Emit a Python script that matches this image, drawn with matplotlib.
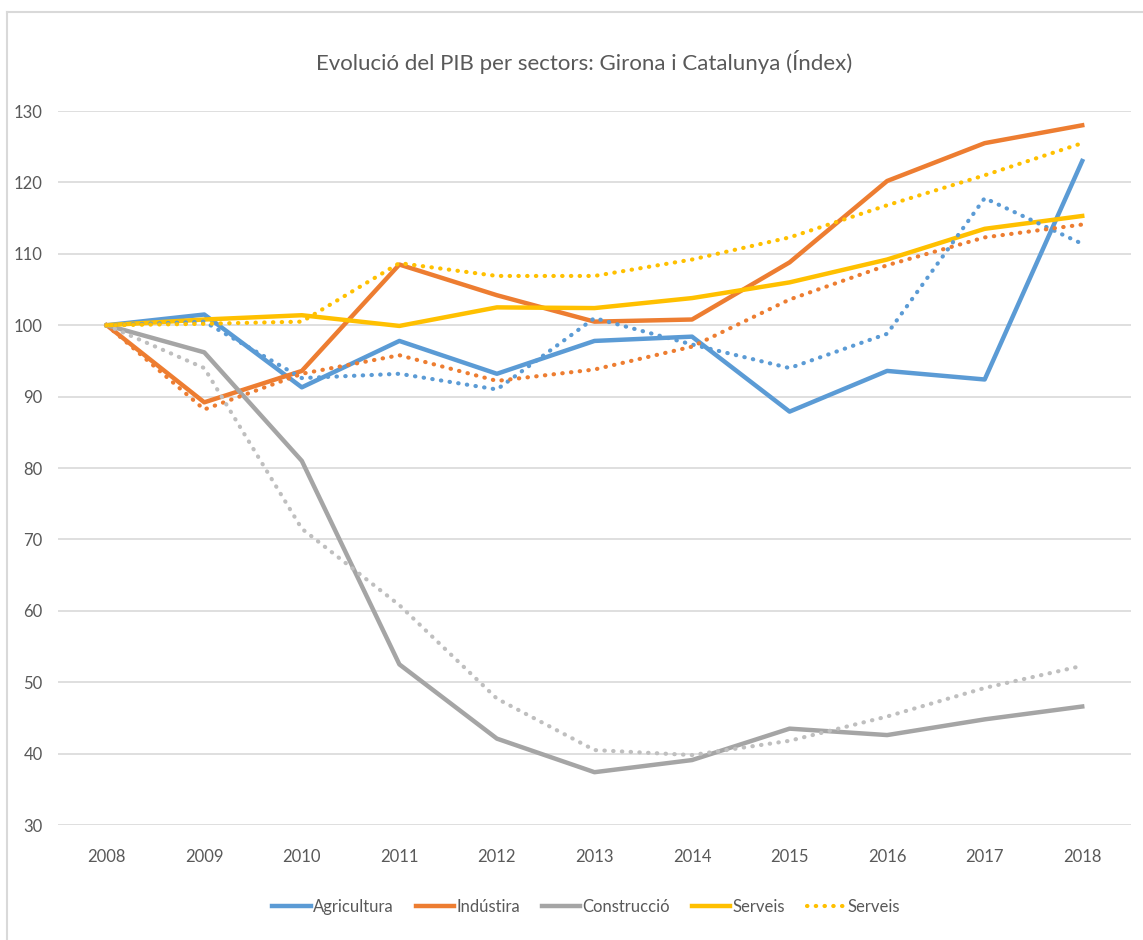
import matplotlib.pyplot as plt
from matplotlib.lines import Line2D

years = [2008, 2009, 2010, 2011, 2012, 2013, 2014, 2015, 2016, 2017, 2018]

# Girona (solid lines)
agri_gi = [100, 101.5, 91.3, 97.8, 93.2, 97.8, 98.4, 87.9, 93.6, 92.4, 123.0]
ind_gi = [100, 89.2, 93.6, 108.5, 104.2, 100.5, 100.8, 108.8, 120.2, 125.5, 128.0]
cons_gi = [100, 96.2, 81.0, 52.5, 42.1, 37.4, 39.1, 43.5, 42.6, 44.8, 46.6]
serv_gi = [100, 100.8, 101.4, 99.9, 102.5, 102.4, 103.8, 106.0, 109.2, 113.5, 115.3]

# Catalunya (dotted lines)
agri_cat = [100, 100.5, 92.6, 93.2, 91.0, 101.0, 97.3, 94.0, 98.8, 117.8, 111.4]
ind_cat = [100, 88.2, 93.2, 95.8, 92.2, 93.8, 97.0, 103.6, 108.4, 112.3, 114.1]
cons_cat = [100, 94.0, 71.5, 60.8, 47.7, 40.5, 39.8, 41.8, 45.2, 49.2, 52.3]
serv_cat = [100, 100.2, 100.5, 108.7, 106.9, 106.9, 109.2, 112.3, 116.8, 121.0, 125.5]

labels = ['Agricultura', 'Indústira', 'Construcció', 'Serveis', 'Serveis']
yticks = [30, 40, 50, 60, 70, 80, 90, 100, 110, 120, 130]

blue = '#5B9BD5'
orange = '#ED7D31'
grey = '#A5A5A5'
yellow = '#FFC000'
text_col = '#595959'

plt.rcParams['font.family'] = ['Lato', 'DejaVu Sans']

fig = plt.figure(figsize=(11.43, 9.40), dpi=100)
ax = fig.add_axes([0.0507, 0.1223, 0.9388, 0.7596])

lw = 3.2
ax.plot(years, agri_gi, color=blue, lw=lw)
ax.plot(years, ind_gi, color=orange, lw=lw)
ax.plot(years, cons_gi, color=grey, lw=lw)
ax.plot(years, serv_gi, color=yellow, lw=lw)

# dotted lines for Catalunya
dot = (0, (0.1, 2.0))
dlw = 3.0
ax.plot(years, agri_cat, color=blue, lw=dlw, linestyle=dot, dash_capstyle='round')
ax.plot(years, ind_cat, color=orange, lw=dlw, linestyle=dot, dash_capstyle='round')
ax.plot(years, cons_cat, color='#BFBFBF', lw=dlw, linestyle=dot, dash_capstyle='round')
ax.plot(years, serv_cat, color=yellow, lw=dlw, linestyle=dot, dash_capstyle='round')

ax.set_xlim(2007.5, 2018.5)
ax.set_ylim(30, 130)
ax.set_yticks(yticks)
ax.set_xticks(years)
ax.set_xticklabels([str(y) for y in years])
ax.grid(axis='y', color='#D9D9D9', lw=1.2)
ax.set_axisbelow(True)
for s in ax.spines.values():
    s.set_visible(False)
ax.tick_params(length=0, labelsize=12, colors=text_col)
ax.tick_params(axis='y', pad=11)
ax.tick_params(axis='x', pad=17)

fig.text(0.511, 0.934, 'Evolució del PIB per sectors: Girona i Catalunya (Índex)',
         ha='center', va='center', fontsize=16, color=text_col)

handles = [Line2D([], [], color=blue, lw=lw),
           Line2D([], [], color=orange, lw=lw),
           Line2D([], [], color=grey, lw=lw),
           Line2D([], [], color=yellow, lw=lw),
           Line2D([], [], color=yellow, lw=dlw, linestyle=dot, dash_capstyle='round')]
fig.legend(handles, labels, loc='center', bbox_to_anchor=(0.513, 0.035), ncol=5,
           frameon=False, fontsize=12, handlelength=2.3, handletextpad=0.15,
           columnspacing=1.3, labelcolor=text_col)

# chart border (top and left visible)
fig.add_artist(Line2D([7 / 1143, 1], [1 - 12 / 940, 1 - 12 / 940], color='#D9D9D9', lw=1.5))
fig.add_artist(Line2D([7 / 1143, 7 / 1143], [0, 1 - 12 / 940], color='#D9D9D9', lw=1.5))

fig.savefig('out.png', dpi=100, facecolor='white')
